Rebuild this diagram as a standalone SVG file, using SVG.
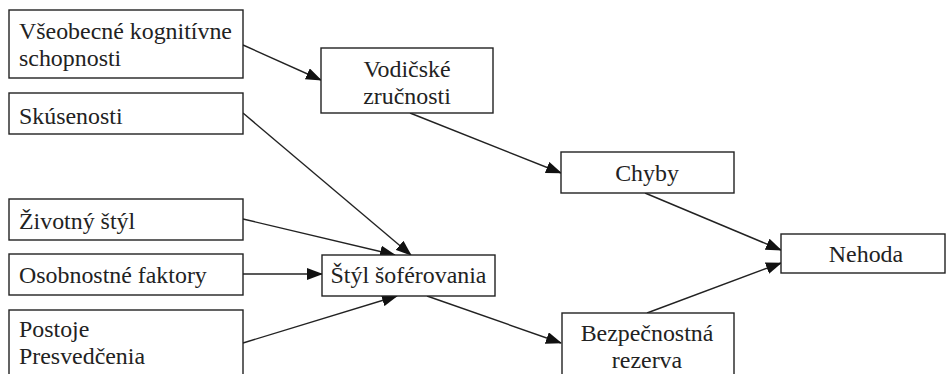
<svg xmlns="http://www.w3.org/2000/svg" width="946" height="374" viewBox="0 0 946 374">
<style>
.box{fill:#fff;stroke:#222;stroke-width:1.4}
.t{font-family:'Liberation Serif','DejaVu Serif',serif;font-size:23.9px;fill:#222}
.m{text-anchor:middle}
.c{fill:none;stroke:#222;stroke-width:1.4}
</style>
<defs>
<marker id="ah" markerUnits="userSpaceOnUse" markerWidth="16" markerHeight="12" refX="15" refY="6" orient="auto">
<path d="M0,0 L16,6 L0,12 Z" fill="#111"/>
</marker>
</defs>
<rect width="946" height="374" fill="#fff"/>
<g id="connectors">
<line class="c" x1="243" y1="45" x2="321" y2="80" marker-end="url(#ah)"/>
<line class="c" x1="243" y1="113" x2="411" y2="255" marker-end="url(#ah)"/>
<line class="c" x1="243" y1="219" x2="395" y2="255" marker-end="url(#ah)"/>
<line class="c" x1="243" y1="274" x2="322" y2="274" marker-end="url(#ah)"/>
<line class="c" x1="243" y1="343" x2="397" y2="296" marker-end="url(#ah)"/>
<line class="c" x1="410" y1="113" x2="561" y2="173" marker-end="url(#ah)"/>
<line class="c" x1="427" y1="296" x2="561" y2="343" marker-end="url(#ah)"/>
<line class="c" x1="645" y1="193" x2="781" y2="250" marker-end="url(#ah)"/>
<line class="c" x1="647" y1="313" x2="781" y2="263" marker-end="url(#ah)"/>
</g>
<g id="n-vseobecne">
<rect class="box" x="9" y="10" width="234" height="68"/>
<text class="t" x="19" y="39">Všeobecné kognitívne</text>
<text class="t" x="19" y="66">schopnosti</text>
</g>
<g id="n-skusenosti">
<rect class="box" x="9" y="93" width="234" height="41"/>
<text class="t" x="19" y="124">Skúsenosti</text>
</g>
<g id="n-zivotny">
<rect class="box" x="9" y="199" width="234" height="41"/>
<text class="t" x="19" y="229">Životný štýl</text>
</g>
<g id="n-osobnostne">
<rect class="box" x="9" y="254" width="234" height="41"/>
<text class="t" x="19" y="283">Osobnostné faktory</text>
</g>
<g id="n-postoje">
<rect class="box" x="9" y="310" width="234" height="80"/>
<text class="t" x="19" y="337">Postoje</text>
<text class="t" x="19" y="364">Presvedčenia</text>
</g>
<g id="n-vodicske">
<rect class="box" x="321" y="48" width="172" height="65"/>
<text class="t m" x="407" y="77">Vodičské</text>
<text class="t m" x="407" y="104">zručnosti</text>
</g>
<g id="n-styl">
<rect class="box" x="322" y="255" width="173" height="41"/>
<text class="t m" x="408.5" y="283">Štýl šoférovania</text>
</g>
<g id="n-chyby">
<rect class="box" x="561" y="152" width="173" height="41"/>
<text class="t m" x="647" y="181">Chyby</text>
</g>
<g id="n-bezpecnostna">
<rect class="box" x="562" y="313" width="172" height="80"/>
<text class="t m" x="647" y="341">Bezpečnostná</text>
<text class="t m" x="647" y="368">rezerva</text>
</g>
<g id="n-nehoda">
<rect class="box" x="781" y="234" width="164" height="39"/>
<text class="t m" x="866" y="262">Nehoda</text>
</g>
</svg>
